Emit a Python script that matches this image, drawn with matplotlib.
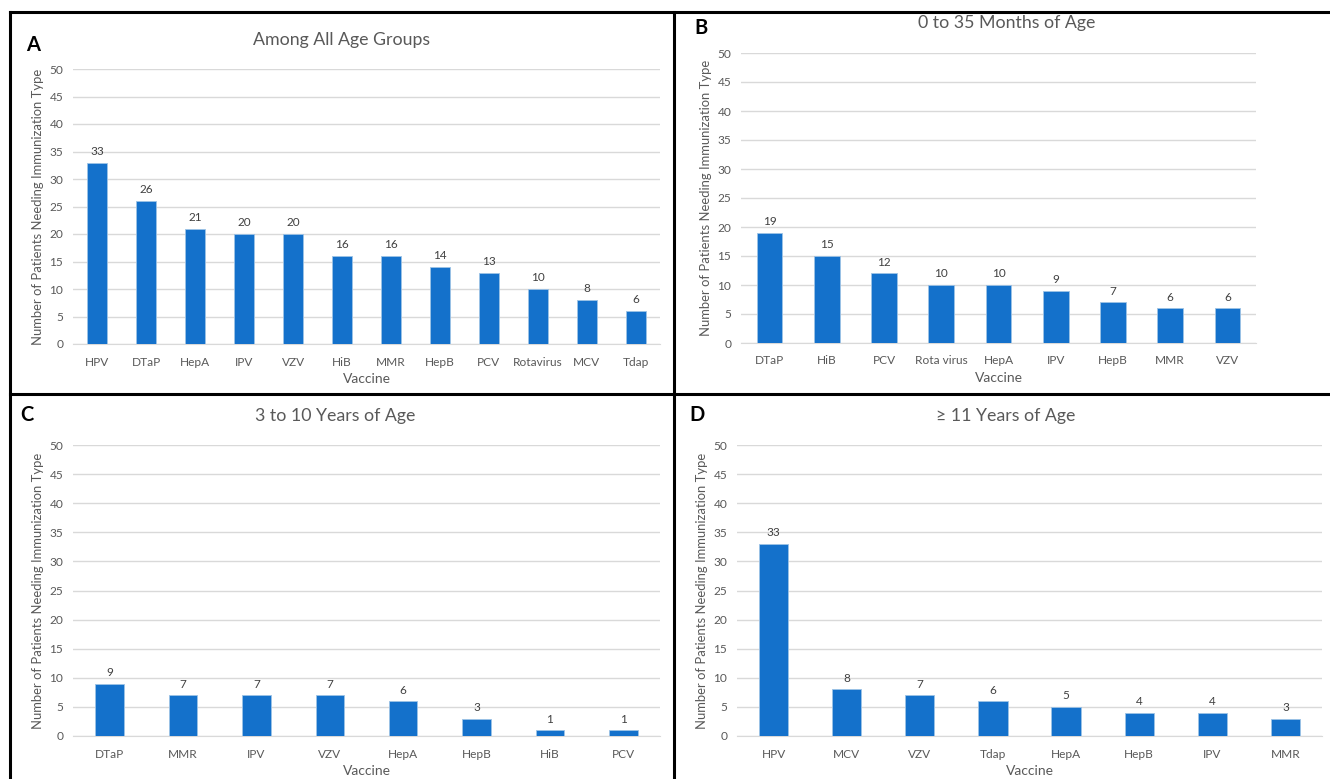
import matplotlib
matplotlib.use("Agg")
import matplotlib.pyplot as plt
from matplotlib.lines import Line2D

plt.rcParams['font.family'] = ['Lato', 'DejaVu Sans']

# panel A - all ages
all_vaccines = ["HPV", "DTaP", "HepA", "IPV", "VZV", "HiB", "MMR", "HepB",
                "PCV", "Rotavirus", "MCV", "Tdap"]
all_counts = [33, 26, 21, 20, 20, 16, 16, 14, 13, 10, 8, 6]

# panel B - 0 to 35 months
infant_vaccines = ["DTaP", "HiB", "PCV", "Rota virus", "HepA", "IPV", "HepB", "MMR", "VZV"]
infant_counts = [19, 15, 12, 10, 10, 9, 7, 6, 6]

# panel C - 3 to 10 years
child_vaccines = ["DTaP", "MMR", "IPV", "VZV", "HepA", "HepB", "HiB", "PCV"]
child_counts = [9, 7, 7, 7, 6, 3, 1, 1]

# panel D - 11 years and older
teen_vaccines = ["HPV", "MCV", "VZV", "Tdap", "HepA", "HepB", "IPV", "MMR"]
teen_counts = [33, 8, 7, 6, 5, 4, 4, 3]

W, H = 1330, 779
BAR = "#1471CB"
EDGE = "#9DC3E6"
TXT = "#595959"
GRID = "#D9D9D9"

fig = plt.figure(figsize=(W / 100, H / 100), dpi=100)


def px_axes(x0, x1, y_top, y_bot):
    return fig.add_axes([x0 / W, 1 - y_bot / H, (x1 - x0) / W, (y_bot - y_top) / H])


def draw_panel(ax, names, counts, width, ylabel):
    xs = range(len(names))
    bars = ax.bar(xs, counts, width=width, color=BAR, edgecolor=EDGE, linewidth=0.6, zorder=3)
    for b, v in zip(bars, counts):
        ax.annotate(str(v), (b.get_x() + b.get_width() / 2, v), xytext=(0, 4),
                    textcoords="offset points", ha="center", va="bottom",
                    fontsize=8.5, color="#404040")
    ax.set_xlim(-0.5, len(names) - 0.5)
    ax.set_ylim(0, 50)
    ax.set_yticks(range(0, 51, 5))
    ax.set_xticks(list(xs))
    ax.set_xticklabels(names)
    ax.tick_params(length=0, labelsize=8.6, colors=TXT)
    ax.tick_params(axis="x", pad=9)
    ax.tick_params(axis="y", pad=7)
    ax.grid(axis="y", color=GRID, linewidth=1, zorder=0)
    for s in ["top", "right", "left"]:
        ax.spines[s].set_visible(False)
    ax.spines["bottom"].set_color(GRID)
    ax.set_xlabel("Vaccine", fontsize=10, color=TXT, labelpad=4)
    ax.set_ylabel(ylabel, fontsize=9.4, color=TXT, labelpad=4)


ylab = "Number of Patients Needing Immunization Type"

axA = px_axes(73, 660, 69, 344)
draw_panel(axA, all_vaccines, all_counts, 0.41, ylab)
axB = px_axes(741, 1256, 53, 343)
draw_panel(axB, infant_vaccines, infant_counts, 0.45, ylab)
axC = px_axes(73, 660, 445, 736)
draw_panel(axC, child_vaccines, child_counts, 0.39, ylab)
axD = px_axes(737, 1322, 445, 736)
draw_panel(axD, teen_vaccines, teen_counts, 0.40, ylab)

titles = [("Among All Age Groups", 342, 40), ("0 to 35 Months of Age", 1007, 23),
          ("3 to 10 Years of Age", 335, 416), ("\u2265 11 Years of Age", 1006, 416)]
for t, x, y in titles:
    fig.text(x / W, 1 - y / H, t, ha="center", va="center", fontsize=12.8, color=TXT)

letters = [("A", 33, 45), ("B", 701, 28), ("C", 27, 415), ("D", 697, 415)]
for t, x, y in letters:
    fig.text(x / W, 1 - y / H, t, ha="center", va="center", fontsize=14.5,
             fontweight="bold", color="black")

# panel borders
borders = [((10, 1330), (12, 12)), ((10, 10), (12, 779)), ((674, 674), (12, 779)),
           ((10, 1330), (394, 394))]
for (xa, xb), (ya, yb) in borders:
    fig.add_artist(Line2D([xa / W, xb / W], [1 - ya / H, 1 - yb / H],
                          transform=fig.transFigure, color="black", linewidth=2.2))

fig.savefig("out.png", dpi=100)
